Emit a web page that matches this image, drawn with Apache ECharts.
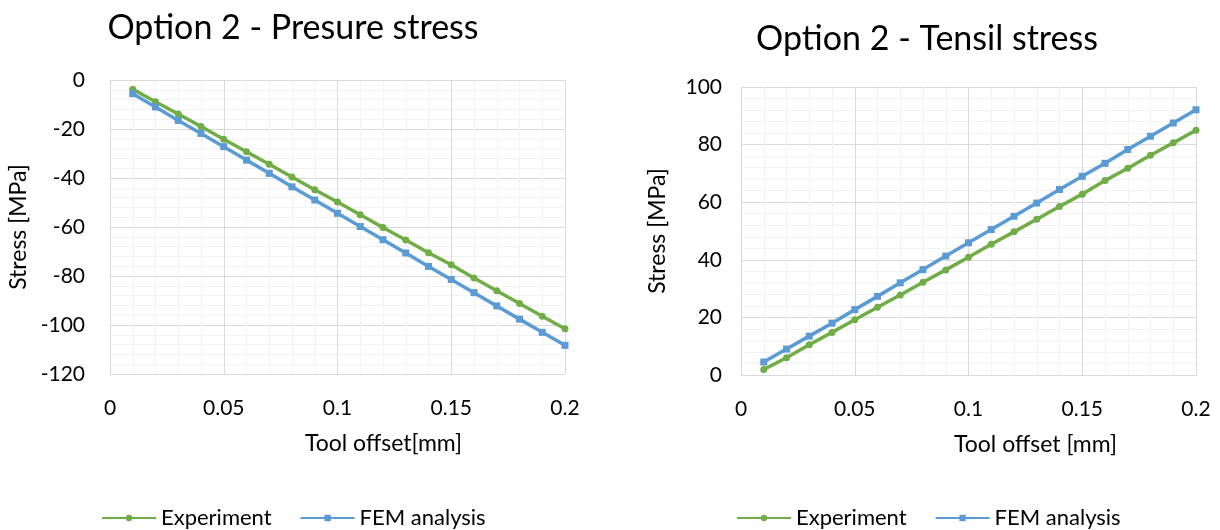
<!DOCTYPE html>
<html>
<head>
<meta charset="utf-8">
<script src="https://cdn.jsdelivr.net/npm/echarts@6/dist/echarts.min.js"></script>
<style>
html,body{margin:0;padding:0;background:#fff;}
#chart{width:1220px;height:530px;}
</style>
</head>
<body>
<div id="chart"></div>
<script>
var toolOffset = [0.01,0.02,0.03,0.04,0.05,0.06,0.07,0.08,0.09,0.10,0.11,0.12,0.13,0.14,0.15,0.16,0.17,0.18,0.19,0.20];
var pressureExperiment = [-3.8,-8.9,-13.9,-19.0,-24.2,-29.3,-34.4,-39.6,-44.8,-49.8,-55.0,-60.2,-65.3,-70.5,-75.4,-80.8,-86.0,-91.2,-96.4,-101.5];
var pressureFEM = [-5.6,-11.0,-16.5,-21.8,-27.2,-32.7,-38.1,-43.6,-49.0,-54.4,-59.8,-65.2,-70.6,-76.1,-81.4,-86.8,-92.2,-97.6,-103.0,-108.3];
var tensileExperiment = [1.9,6.0,10.5,14.8,19.2,23.5,27.8,32.2,36.5,40.9,45.4,49.7,54.1,58.5,62.8,67.5,71.8,76.3,80.6,85.0];
var tensileFEM = [4.5,9.0,13.5,18.0,22.7,27.3,32.0,36.6,41.3,45.9,50.5,55.1,59.7,64.4,69.0,73.5,78.3,82.9,87.5,92.1];
var seriesNames = ['Experiment','FEM analysis'];
var titles = ['Option 2 - Presure stress','Option 2 - Tensil stress'];
var xNames = ['Tool offset[mm]','Tool offset [mm]'];
var yName = 'Stress [MPa]';

var FONT = 'Lato';
var GREEN = '#70AD47', BLUE = '#5B9BD5';

function pairs(xs, ys){ return xs.map(function(x,i){ return [x, ys[i]]; }); }

function xAxis(idx, name, pad){
  return {
    type:'value', gridIndex:idx, min:0, max:0.2, interval:0.05,
    name:name, nameLocation:'middle', nameGap:58,
    nameTextStyle:{fontFamily:FONT, fontSize:23, color:'#000', padding:pad},
    axisLine:{show:true, lineStyle:{color:'#D9D9D9'}},
    axisTick:{show:false},
    axisLabel:{fontFamily:FONT, fontSize:21, color:'#000', margin:24},
    splitLine:{show:true, lineStyle:{color:'#D9D9D9', width:1}},
    minorTick:{show:false, splitNumber:5},
    minorSplitLine:{show:true, lineStyle:{color:'#F2F2F2', width:1}}
  };
}
function yAxis(idx, min, max, margin, gap){
  return {
    type:'value', gridIndex:idx, min:min, max:max, interval:20,
    name:yName, nameLocation:'middle', nameGap:gap,
    nameTextStyle:{fontFamily:FONT, fontSize:23, color:'#000'},
    axisLine:{show:true, lineStyle:{color:'#D9D9D9'}},
    axisTick:{show:false},
    axisLabel:{fontFamily:FONT, fontSize:21, color:'#000', margin:margin},
    splitLine:{show:true, lineStyle:{color:'#D9D9D9', width:1}},
    minorTick:{show:false, splitNumber:5},
    minorSplitLine:{show:true, lineStyle:{color:'#F2F2F2', width:1}}
  };
}
function line(name, idx, data, color, symbol){
  return {
    name:name, type:'line', xAxisIndex:idx, yAxisIndex:idx, data:data,
    symbol:symbol, symbolSize:7, showSymbol:true,
    lineStyle:{color:color, width:3.5}, itemStyle:{color:color},
    emphasis:{disabled:true}, animation:false
  };
}

var chart = echarts.init(document.getElementById('chart'), null, {renderer:'canvas'});
chart.setOption({
  backgroundColor:'#fff',
  animation:false,
  title:[
    {text:titles[0], left:288, top:6, textAlign:'center', textStyle:{fontFamily:FONT, fontSize:34, fontWeight:'normal', color:'#000'}},
    {text:titles[1], left:922, top:17, textAlign:'center', textStyle:{fontFamily:FONT, fontSize:34, fontWeight:'normal', color:'#000'}}
  ],
  legend:[
    {left:96, top:502, itemWidth:54, itemHeight:8, itemGap:28, data:[seriesNames[0], seriesNames[1]],
     textStyle:{fontFamily:FONT, fontSize:22, color:'#000'}, selectedMode:false},
    {left:731, top:502, itemWidth:54, itemHeight:8, itemGap:28, data:[seriesNames[0], seriesNames[1]],
     textStyle:{fontFamily:FONT, fontSize:22, color:'#000'}, selectedMode:false}
  ],
  grid:[
    {left:110, top:80, width:455, height:294},
    {left:741, top:87, width:455, height:288}
  ],
  xAxis:[xAxis(0, xNames[0], [0,0,0,92]), xAxis(1, xNames[1], [0,0,0,134])],
  yAxis:[yAxis(0,-120,0,25,80), yAxis(1,0,100,19,72)],
  series:[
    line(seriesNames[0],0,pairs(toolOffset,pressureExperiment),GREEN,'circle'),
    line(seriesNames[1],0,pairs(toolOffset,pressureFEM),BLUE,'rect'),
    line(seriesNames[0],1,pairs(toolOffset,tensileExperiment),GREEN,'circle'),
    line(seriesNames[1],1,pairs(toolOffset,tensileFEM),BLUE,'rect')
  ]
});
</script>
</body>
</html>
